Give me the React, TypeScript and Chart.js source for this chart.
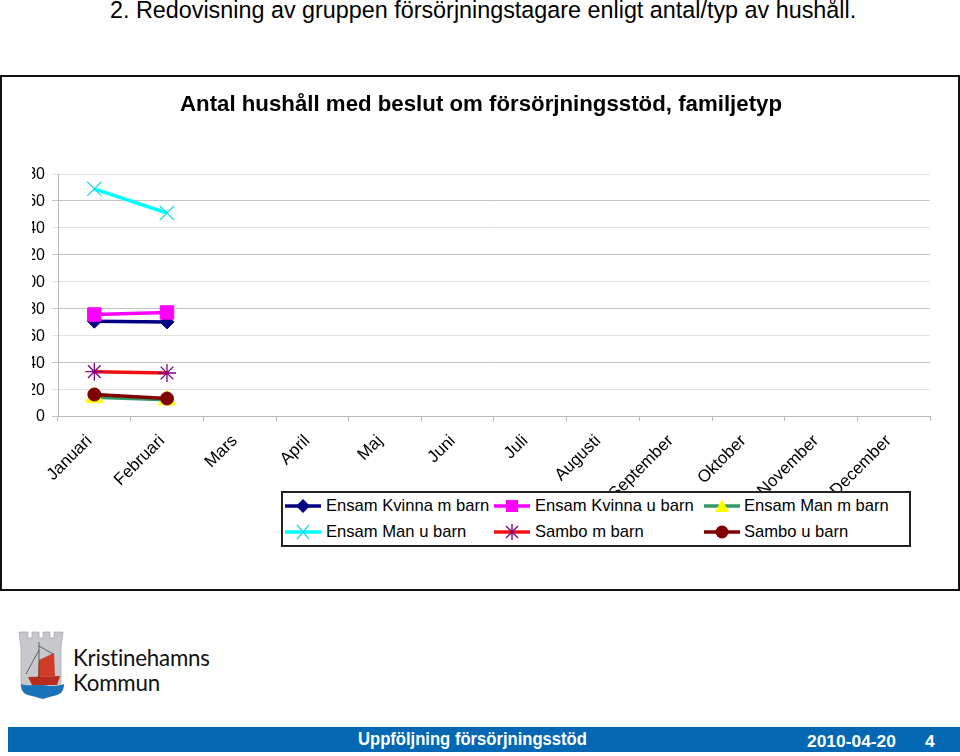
import React, { useEffect, useRef } from "react";
import { Chart, registerables } from "chart.js";

Chart.register(...registerables);

const heading = "2. Redovisning av gruppen försörjningstagare enligt antal/typ av hushåll.";
const chartTitle = "Antal hushåll med beslut om försörjningsstöd, familjetyp";
const months = ["Januari", "Februari", "Mars", "April", "Maj", "Juni", "Juli", "Augusti", "September", "Oktober", "November", "December"];
const seriesNames = ["Ensam Kvinna m barn", "Ensam Kvinna u barn", "Ensam Man m barn", "Ensam Man u barn", "Sambo m barn", "Sambo u barn"];
const kvinnaMBarn = [70.5, 70];
const kvinnaUBarn = [75.5, 77];
const manMBarn = [14, 12];
const manUBarn = [169, 151];
const samboMBarn = [33, 32];
const samboUBarn = [16, 13];
const seriesValues = [kvinnaMBarn, kvinnaUBarn, manMBarn, manUBarn, samboMBarn, samboUBarn];
const lineColors = ["#000080", "#FF00FF", "#339966", "#00FFFF", "#EE1111", "#800000"];
const markerColors = ["#000080", "#FF00FF", "#FFFF00", "#22DDDD", "#800080", "#800000"];
const markerStyles = ["rectRot", "rect", "triangle", "crossRot", "star", "circle"];
const markerSizes = [7, 9.5, 10, 10, 9, 6.5];
const FONT = '"Liberation Sans", Arial, sans-serif';

function Marker({ kind, color }: { kind: string; color: string }) {
  const c = 18, m = 8;
  if (kind === "rectRot") return <polygon points={`${c},${m - 7} ${c + 7},${m} ${c},${m + 7} ${c - 7},${m}`} fill={color} />;
  if (kind === "rect") return <rect x={c - 6} y={m - 6} width={12} height={12} fill={color} />;
  if (kind === "triangle") return <polygon points={`${c},${m - 7} ${c + 7},${m + 6} ${c - 7},${m + 6}`} fill={color} />;
  if (kind === "crossRot") return <path d={`M${c - 6} ${m - 7}L${c + 6} ${m + 7}M${c + 6} ${m - 7}L${c - 6} ${m + 7}`} stroke={color} strokeWidth={1.3} />;
  if (kind === "star") return <path d={`M${c - 6} ${m - 6}L${c + 6} ${m + 6}M${c + 6} ${m - 6}L${c - 6} ${m + 6}M${c} ${m - 8}V${m + 8}`} stroke={color} strokeWidth={1.4} />;
  return <circle cx={c} cy={m} r={6.5} fill={color} />;
}

const legendX = [285, 494, 704];
const legendY = [498, 524];

export default function App() {
  const ref = useRef<HTMLCanvasElement>(null);
  useEffect(() => {
    document.body.style.margin = "0";
    const chart = new Chart(ref.current!, {
      type: "line",
      data: {
        labels: months,
        datasets: seriesNames.map((name, i) => ({
          label: name,
          data: seriesValues[i],
          borderColor: lineColors[i],
          backgroundColor: markerColors[i],
          pointBackgroundColor: markerColors[i],
          pointBorderColor: markerColors[i],
          pointStyle: markerStyles[i],
          pointRadius: markerSizes[i],
          pointBorderWidth: i === 3 || i === 4 ? 1.3 : 1,
          borderWidth: 3.5,
          tension: 0,
          fill: false,
          order: seriesNames.length - i,
        })),
      },
      options: {
        animation: false,
        responsive: false,
        layout: { padding: { left: 32, right: 30, top: 0, bottom: 0 } },
        plugins: {
          legend: { display: false },
          tooltip: { enabled: false },
          title: {
            display: true,
            text: chartTitle,
            color: "#000",
            font: { family: FONT, size: 22.25, weight: "bold" },
            padding: { top: 17, bottom: 55.3 },
          },
        },
        scales: {
          x: {
            offset: true,
            afterFit: (s: any) => { s.height = 174; },
            border: { color: "#b8b8b8", width: 1 },
            grid: {
              offset: true,
              drawOnChartArea: true,
              drawTicks: true,
              tickLength: 5,
              color: (ctx: any) => (ctx.index === months.length ? "#e0e0e0" : "rgba(0,0,0,0)"),
              tickColor: "#b8b8b8",
            },
            ticks: {
              autoSkip: false,
              minRotation: 45,
              maxRotation: 45,
              padding: 10,
              labelOffset: -5,
              color: "#000",
              font: { family: FONT, size: 17 },
            },
          },
          y: {
            min: 0,
            max: 180,
            afterFit: (s: any) => { s.width = 26; },
            border: { color: "#b8b8b8", width: 1 },
            grid: {
              color: (ctx: any) => (ctx.tick && ctx.tick.value % 40 === 20 ? "#e2e2e2" : "#c4c4c4"),
              tickLength: 6,
            },
            ticks: { stepSize: 20, padding: 7, labelOffset: 1, color: "#000", font: { family: FONT, size: 16 } },
          },
        },
      },
    } as any);
    return () => chart.destroy();
  }, []);

  const abs = (l: number, t: number, extra: React.CSSProperties = {}): React.CSSProperties => ({
    position: "absolute", left: l, top: t, fontFamily: FONT, whiteSpace: "nowrap", ...extra,
  });

  return (
    <div style={{ position: "relative", width: 960, height: 756, overflow: "hidden", background: "#fff" }}>
      <div style={abs(110, -3, { fontSize: 23.35, lineHeight: "27px", color: "#000" })}>{heading}</div>
      <div style={abs(0, 75, { width: 960, height: 516, boxSizing: "border-box", border: "2px solid #111" })} />
      <canvas ref={ref} width={960} height={515} style={abs(0, 75, { display: "block", width: 960, height: 515 })} />
      <div style={abs(281, 491, { width: 630, height: 56, boxSizing: "border-box", border: "2px solid #222", background: "#fff" })} />
      {seriesNames.map((name, i) => {
        const col = i % 3, row = Math.floor(i / 3);
        return (
          <React.Fragment key={name}>
            <svg width={36} height={16} style={abs(legendX[col], legendY[row])}>
              <line x1={0} x2={36} y1={8} y2={8} stroke={lineColors[i]} strokeWidth={3.5} />
              <Marker kind={markerStyles[i]} color={markerColors[i]} />
            </svg>
            <div style={abs(legendX[col] + (col === 2 ? 40 : 41), legendY[row] - 1, { fontSize: 16.6, lineHeight: "18px", color: "#000" })}>{name}</div>
          </React.Fragment>
        );
      })}
      <svg width={52} height={70} style={abs(18, 630)}>
        <path d="M1 2h9v6h4V2h7v6h4V2h7v6h4V2h9l-2 16v34c0 9-5 12-11 13l-10 3-10-3C5 64 3 61 3 52V18z" fill="#c6c8cb" stroke="#9a9a9a" strokeWidth={0.6} />
        <path d="M3 54c7 3 13 0 21 1s14 2 22-1c0 8-4 11-11 12l-10 3-10-3C7 65 3 62 3 54z" fill="#1a72b8" />
        <path d="M10 47l32-1-3 9H14z" fill="#b82c1d" />
        <path d="M21 30l15-7 1 23-17 1z" fill="#d13c28" />
        <path d="M21 12v36M8 44L21 20M21 16l14 8" stroke="#444" strokeWidth={0.8} fill="none" />
      </svg>
      <div style={abs(73, 645, { fontFamily: "Lato, sans-serif", fontSize: 22.3, lineHeight: "25px", color: "#111", letterSpacing: -0.2 })}>Kristinehamns</div>
      <div style={abs(73, 670, { fontFamily: "Lato, sans-serif", fontSize: 22.3, lineHeight: "25px", color: "#111", letterSpacing: -0.2 })}>Kommun</div>
      <div style={abs(8, 727, { width: 952, height: 25, background: "#0468B4" })} />
      <div style={abs(358, 729, { fontSize: 18, lineHeight: "21px", fontWeight: "bold", color: "#fff", transform: "scaleX(0.923)", transformOrigin: "left" })}>Uppföljning försörjningsstöd</div>
      <div style={abs(807, 732, { fontSize: 17.4, lineHeight: "19px", fontWeight: "bold", color: "#fff" })}>2010-04-20</div>
      <div style={abs(925, 732, { fontSize: 17.4, lineHeight: "19px", fontWeight: "bold", color: "#fff" })}>4</div>
    </div>
  );
}
